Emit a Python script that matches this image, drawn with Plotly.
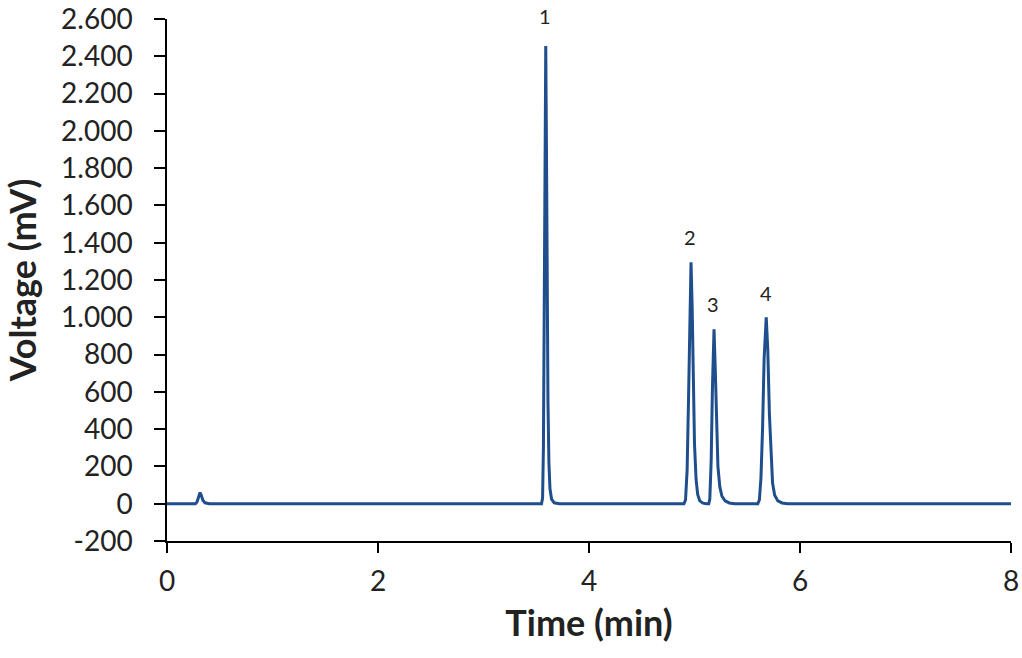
import plotly.graph_objects as go

# chromatogram trace (time in min, signal in mV)
time_min = [0.0, 0.27, 0.285, 0.30, 0.313, 0.325, 0.34, 0.36, 0.40,
            3.55, 3.56, 3.568, 3.575, 3.582, 3.59, 3.597, 3.604, 3.611, 3.62, 3.63, 3.645, 3.67, 3.72,
            4.90, 4.915, 4.93, 4.943, 4.955, 4.967, 4.978, 4.99, 5.00, 5.015, 5.03, 5.05, 5.08, 5.115,
            5.135, 5.145, 5.158, 5.17, 5.185, 5.197, 5.21, 5.222, 5.24, 5.26, 5.29, 5.33, 5.38,
            5.60, 5.615, 5.63, 5.645, 5.66, 5.68, 5.695, 5.71, 5.725, 5.74, 5.76, 5.79, 5.83, 5.88,
            8.0]
voltage_mv = [0, 0, 10, 45, 60, 45, 18, 5, 0,
              0, 30, 300, 900, 1700, 2455, 1900, 1100, 550, 220, 80, 25, 5, 0,
              0, 20, 180, 550, 1050, 1295, 1050, 600, 320, 130, 50, 15, 3, 0,
              0, 25, 230, 620, 935, 720, 400, 200, 90, 40, 15, 4, 0,
              0, 20, 140, 400, 780, 1000, 820, 480, 240, 110, 45, 15, 4, 0,
              0]

# y ticks as printed on the chart (dot as thousands separator, plain hyphen)
y_tickvals = [-200, 0, 200, 400, 600, 800, 1000, 1200, 1400, 1600, 1800, 2000, 2200, 2400, 2600]
y_ticktext = ["-200", "0", "200", "400", "600", "800", "1.000", "1.200", "1.400",
              "1.600", "1.800", "2.000", "2.200", "2.400", "2.600"]

# peak numbers and where they sit
peak_labels = ["1", "2", "3", "4"]
peak_x = [3.58, 4.96, 5.175, 5.68]
peak_y = [2617, 1432, 1072, 1131]

y_lo, y_hi = -200, 2600
line_color = "#1f4e8c"
font_name = "Lato"

fig = go.Figure()
fig.add_trace(go.Scatter(x=time_min, y=voltage_mv, mode="lines",
                         line=dict(color=line_color, width=3),
                         showlegend=False, hoverinfo="x+y"))

# labels go in paper coords so the one above the top of the axis still shows
for lab, px, py in zip(peak_labels, peak_x, peak_y):
    fig.add_annotation(x=px, y=(py - y_lo) / (y_hi - y_lo), yref="paper",
                       yanchor="middle", xanchor="center",
                       text=lab, showarrow=False,
                       font=dict(family=font_name, size=20, color="#222222"))

fig.update_layout(
    width=1022, height=658,
    margin=dict(l=167, r=11, t=19, b=117),
    plot_bgcolor="white", paper_bgcolor="white",
    font=dict(family=font_name, color="#222222"),
    xaxis=dict(
        range=[0, 8], dtick=2, showgrid=False, zeroline=False, automargin=False,
        showline=True, linecolor="black", linewidth=1.5,
        ticks="outside", ticklen=10, tickcolor="black", tickwidth=1.5,
        tickfont=dict(size=28), ticklabelstandoff=5,
        title=dict(text="<b>Time (min)</b>", font=dict(size=36), standoff=14),
    ),
    yaxis=dict(
        range=[y_lo, y_hi], tickvals=y_tickvals, ticktext=y_ticktext,
        showgrid=False, zeroline=False, automargin=False,
        showline=True, linecolor="black", linewidth=1.5,
        ticks="outside", ticklen=11, tickcolor="black", tickwidth=1.5,
        tickfont=dict(size=28), ticklabelstandoff=16,
        title=dict(text="<b>Voltage (mV)</b>", font=dict(size=36), standoff=22),
    ),
)

# page has a default 8px body margin; drop it so the figure sits at 0,0
fig.write_html("out.html", config={"displayModeBar": False},
               post_script="document.body.style.margin = '0';")
